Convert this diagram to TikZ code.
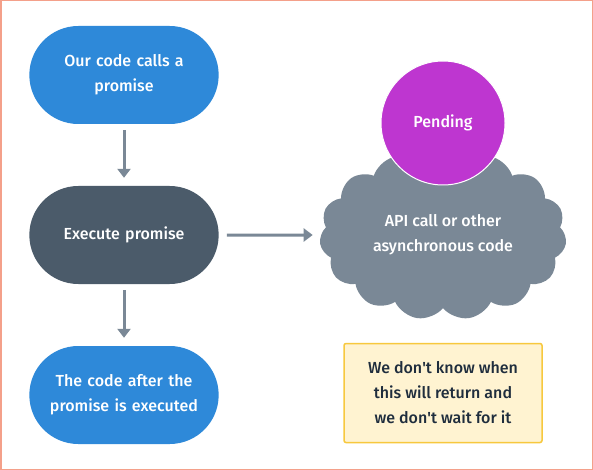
\documentclass[tikz,border=0pt]{standalone}
\usepackage{fontspec}
\setmainfont{Fira Sans}[UprightFont={* Medium}]
\usetikzlibrary{positioning, shapes.misc, shapes.symbols, arrows.meta}

\definecolor{stepblue}{HTML}{2E89D9}
\definecolor{stepdark}{HTML}{4B5B6A}
\definecolor{cloudgray}{HTML}{7A8896}
\definecolor{pendpurple}{HTML}{BE36D0}
\definecolor{framered}{HTML}{F4A08A}
\definecolor{noteyellow}{HTML}{FFF3D1}
\definecolor{noteedge}{HTML}{F7C83E}
\definecolor{notetext}{HTML}{1F2D3D}

\tikzset{
  pill/.style={rounded rectangle, minimum width=196pt, minimum height=98pt,
    text width=180pt, align=center, text=white, font=\fontsize{16}{25}\selectfont},
  flow/.style={draw=cloudgray, line width=3pt, -{Triangle[length=9pt,width=13pt]}}
}

\begin{document}
\begin{tikzpicture}[x=1pt,y=1pt,node distance=160pt,on grid,auto]
   \draw[framered, line width=1.5pt, fill=white] (0.75,-0.75) rectangle (592.25,-469.25);
   \useasboundingbox (0,0) rectangle (593,-470);
   \node[pill, fill=stepblue] (calls) at (124,-75) {Our code calls a\\promise};
   \node[pill, fill=stepdark] (exec) [below=of calls] {Execute promise};
   \node[pill, fill=stepblue] (after) [below=of exec] {The code after the\\promise is executed};
   \node[cloud, cloud puffs=15, cloud puff arc=115, aspect=1.5, fill=cloudgray,
      minimum width=247pt, minimum height=170pt, align=center, text=white,
      font=\fontsize{16}{25}\selectfont] (api) [right=319pt of exec]
      {API call or other\\asynchronous code};
   \node[circle, fill=pendpurple, draw=white, line width=1pt, minimum size=124pt,
      text=white, font=\fontsize{16}{18}\selectfont] (pend) [above=112pt of api] {Pending};
   \node[rectangle, rounded corners=2pt, fill=noteyellow, draw=noteedge, line width=1.5pt,
      minimum width=198pt, minimum height=99pt, align=center, text=notetext,
      font=\fontsize{16}{25}\selectfont] (note) [below=158pt of api]
      {We don\textquotesingle t know when\\this will return and\\we don\textquotesingle t wait for it};
   \draw[flow] ([yshift=-6pt]calls.south) -- ([yshift=8pt]exec.north);
   \draw[flow] ([yshift=-6pt]exec.south) -- ([yshift=8pt]after.north);
   \draw[flow] ([xshift=8pt]exec.east) -- ([xshift=-8pt]api.west);
\end{tikzpicture}
\end{document}
